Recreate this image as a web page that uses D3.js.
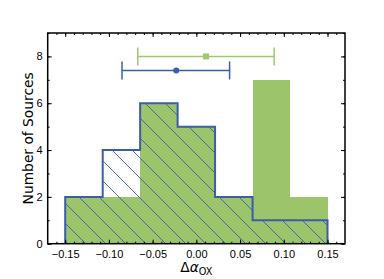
<!DOCTYPE html>
<html>
<head>
<meta charset="utf-8">
<script src="https://cdn.jsdelivr.net/npm/d3@7"></script>
<style>
  body { margin: 0; background: #fff; }
  svg { display: block; font-family: "DejaVu Sans", sans-serif; }
</style>
</head>
<body>
<div id="chart"></div>
<script>
// histogram bins (7 bins between -0.15 and 0.15)
const binEdges = [-0.15, -0.1071, -0.0643, -0.0214, 0.0214, 0.0643, 0.1071, 0.15];
const greenCounts = [2, 2, 6, 5, 2, 7, 2];
const blueCounts = [2, 4, 6, 5, 2, 1, 1];

// mean +/- range markers above the histogram
const greenPoint = { x: 0.011, y: 8.0, lo: -0.067, hi: 0.089 };
const bluePoint = { x: -0.023, y: 7.4, lo: -0.085, hi: 0.038 };

const xTicks = [-0.15, -0.10, -0.05, 0.00, 0.05, 0.10, 0.15];
const yTicks = [0, 2, 4, 6, 8];

const width = 384, height = 279;
const margin = { top: 33, right: 39, bottom: 35.3, left: 47.7 };
const green = '#9bc46b', blue = '#3c5ea8';

const svg = d3.select('#chart').append('svg')
  .attr('width', width)
  .attr('height', height);

const x = d3.scaleLinear().domain([-0.17, 0.17]).range([margin.left, width - margin.right]);
const y = d3.scaleLinear().domain([0, 9]).range([height - margin.bottom, margin.top]);

// hatch pattern for the blue histogram
const defs = svg.append('defs');
const pat = defs.append('pattern')
  .attr('id', 'hatch')
  .attr('patternUnits', 'userSpaceOnUse')
  .attr('x', 2).attr('y', 0)
  .attr('width', 20).attr('height', 20);
pat.append('path')
  .attr('d', 'M-5,-5 L25,25 M-25,-5 L5,25 M15,-5 L45,25')
  .attr('stroke', blue)
  .attr('stroke-width', 0.9)
  .attr('fill', 'none');

// green filled bars
svg.append('g').selectAll('rect')
  .data(greenCounts)
  .enter().append('rect')
  .attr('x', (d, i) => x(binEdges[i]))
  .attr('y', d => y(d))
  .attr('width', (d, i) => x(binEdges[i + 1]) - x(binEdges[i]))
  .attr('height', d => y(0) - y(d))
  .attr('fill', green)
  .attr('shape-rendering', 'crispEdges');

// blue step outline with hatch
let pts = [[binEdges[0], 0]];
blueCounts.forEach((c, i) => {
  pts.push([binEdges[i], c]);
  pts.push([binEdges[i + 1], c]);
});
pts.push([binEdges[binEdges.length - 1], 0]);

const stepLine = d3.line().x(d => x(d[0])).y(d => y(d[1]));

svg.append('path')
  .attr('d', stepLine(pts) + 'Z')
  .attr('fill', 'url(#hatch)')
  .attr('stroke', 'none');

svg.append('path')
  .attr('d', stepLine(pts))
  .attr('fill', 'none')
  .attr('stroke', blue)
  .attr('stroke-width', 2)
  .attr('stroke-linejoin', 'miter');

// error bars
function errBar(p, color, shape) {
  let g = svg.append('g');
  let cy = y(p.y);
  g.append('line')
    .attr('x1', x(p.lo)).attr('x2', x(p.hi))
    .attr('y1', cy).attr('y2', cy)
    .attr('stroke', color).attr('stroke-width', 1.5);
  [p.lo, p.hi].forEach(v => {
    g.append('line')
      .attr('x1', x(v)).attr('x2', x(v))
      .attr('y1', cy - 9).attr('y2', cy + 9)
      .attr('stroke', color).attr('stroke-width', 1.5);
  });
  if (shape === 'square') {
    g.append('rect')
      .attr('x', x(p.x) - 3).attr('y', cy - 3)
      .attr('width', 6).attr('height', 6)
      .attr('fill', color);
  } else {
    g.append('circle')
      .attr('cx', x(p.x)).attr('cy', cy).attr('r', 3)
      .attr('fill', color);
  }
}
errBar(greenPoint, '#9ccb6e', 'square');
errBar(bluePoint, blue, 'circle');

// axes: ticks pointing inward on all four sides
const xMinor = d3.range(-16, 17).map(d => d / 100);
const yMinor = d3.range(0, 10);
const fmtX = d3.format('.2f');

function axisStyle(g) {
  g.select('.domain').remove();
  g.selectAll('line').attr('stroke', '#000').attr('stroke-width', 1);
  g.selectAll('text').attr('fill', '#000').style('font-size', '11px');
}

svg.append('g')
  .attr('transform', `translate(0,${y(0)})`)
  .call(d3.axisBottom(x).tickValues(xMinor).tickSize(-2).tickFormat(''))
  .call(axisStyle);
svg.append('g')
  .attr('transform', `translate(0,${y(0)})`)
  .call(d3.axisBottom(x).tickValues(xTicks).tickSize(-4).tickPadding(7).tickFormat(fmtX))
  .call(axisStyle);
svg.append('g')
  .attr('transform', `translate(0,${y(9)})`)
  .call(d3.axisTop(x).tickValues(xMinor).tickSize(-2).tickFormat(''))
  .call(axisStyle);
svg.append('g')
  .attr('transform', `translate(0,${y(9)})`)
  .call(d3.axisTop(x).tickValues(xTicks).tickSize(-4).tickFormat(''))
  .call(axisStyle);

svg.append('g')
  .attr('transform', `translate(${x(-0.17)},0)`)
  .call(d3.axisLeft(y).tickValues(yMinor).tickSize(-2).tickFormat(''))
  .call(axisStyle);
svg.append('g')
  .attr('transform', `translate(${x(-0.17)},0)`)
  .call(d3.axisLeft(y).tickValues(yTicks).tickSize(-4).tickPadding(5).tickFormat(d3.format('d')))
  .call(axisStyle);
svg.append('g')
  .attr('transform', `translate(${x(0.17)},0)`)
  .call(d3.axisRight(y).tickValues(yMinor).tickSize(-2).tickFormat(''))
  .call(axisStyle);
svg.append('g')
  .attr('transform', `translate(${x(0.17)},0)`)
  .call(d3.axisRight(y).tickValues(yTicks).tickSize(-4).tickFormat(''))
  .call(axisStyle);

// frame
svg.append('rect')
  .attr('x', x(-0.17)).attr('y', y(9))
  .attr('width', x(0.17) - x(-0.17))
  .attr('height', y(0) - y(9))
  .attr('fill', 'none')
  .attr('stroke', '#000')
  .attr('stroke-width', 1.5);

// labels
svg.append('text')
  .attr('transform', `translate(32.5,${(y(0) + y(9)) / 2}) rotate(-90)`)
  .attr('text-anchor', 'middle')
  .style('font-size', '13.8px')
  .text('Number of Sources');

const xl = svg.append('text')
  .attr('x', (x(-0.17) + x(0.17)) / 2)
  .attr('y', 272)
  .attr('text-anchor', 'middle')
  .style('font-size', '13.8px');
xl.append('tspan').text('Δ');
xl.append('tspan').style('font-style', 'italic').text('α');
xl.append('tspan').attr('dy', 3).style('font-size', '9.7px').text('OX');
</script>
</body>
</html>
